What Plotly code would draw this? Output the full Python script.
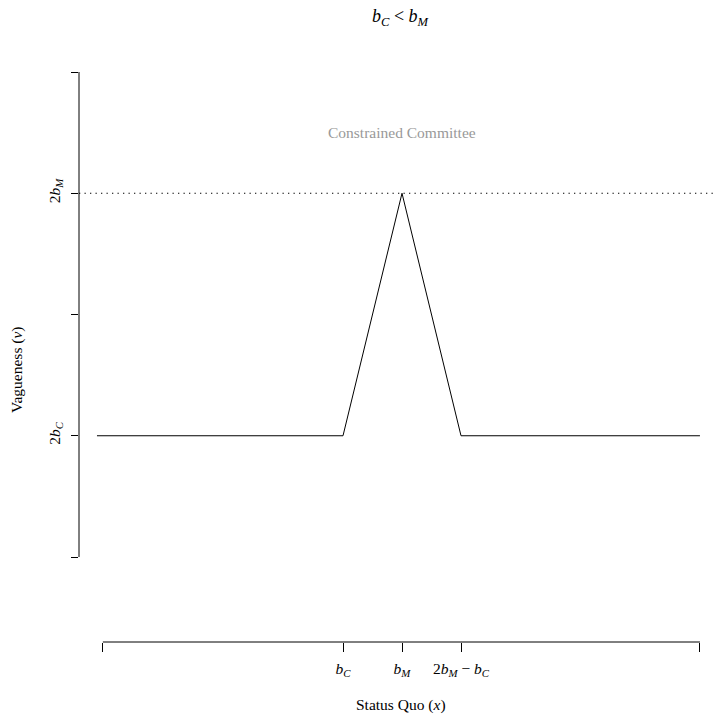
import plotly.graph_objects as go

# ---- data ----
b_C = 0.5
b_M = 1.5
x_line = [-3.67, b_C, b_M, 2 * b_M - b_C, 6.55]
v_line = [2 * b_C, 2 * b_C, 2 * b_M, 2 * b_C, 2 * b_C]

# labelled ticks
x_tickvals = [b_C, b_M, 2 * b_M - b_C]
x_ticktext = ["<i>b</i><sub><i>C</i></sub>", "<i>b</i><sub><i>M</i></sub>",
              "2<i>b</i><sub><i>M</i></sub> − <i>b</i><sub><i>C</i></sub>"]
y_tickvals = [2 * b_C, 2 * b_M]
y_ticktext = ["2<i>b</i><sub><i>C</i></sub>", "2<i>b</i><sub><i>M</i></sub>"]
# unlabelled ticks
x_plain_ticks = [-3.57, 6.55]
y_plain_ticks = [0.0, 2.0, 4.0]

title_text = "<i>b</i><sub><i>C</i></sub> &lt; <i>b</i><sub><i>M</i></sub>"
region_label = "Constrained Committee"
x_title = "Status Quo (<i>x</i>)"
y_title = "Vagueness (<i>v</i>)"

FONT = "Liberation Serif"
FS = 15.5

fig = go.Figure()
fig.add_trace(go.Scatter(x=x_line, y=v_line, mode="lines",
                         line=dict(color="black", width=1), showlegend=False,
                         hoverinfo="skip"))
# invisible trace so the overlay axes (plain ticks) are drawn
fig.add_trace(go.Scatter(x=x_plain_ticks, y=[y_plain_ticks[0]] * len(x_plain_ticks),
                         xaxis="x2", yaxis="y2", mode="lines",
                         line=dict(color="rgba(0,0,0,0)", width=0), showlegend=False,
                         hoverinfo="skip"))

# dotted horizontal reference at 2 b_M
fig.add_hline(y=2 * b_M, line=dict(color="black", width=1.2, dash="1.3px,4.2px"))

# axis lines spanning only the tick range (R style)
x_all = sorted(x_tickvals + x_plain_ticks)
y_all = sorted(y_tickvals + y_plain_ticks)
fig.add_shape(type="line", xref="x", yref="paper", x0=x_all[0], x1=x_all[-1],
              y0=0, y1=0, line=dict(color="black", width=1))
fig.add_shape(type="line", xref="paper", yref="y", x0=0, x1=0,
              y0=y_all[0], y1=y_all[-1], line=dict(color="black", width=1))

x_mid = (x_all[0] + x_all[-1]) / 2
fig.add_annotation(x=b_M, y=3.5, xref="x", yref="y", text=region_label, showarrow=False,
                   xanchor="center", yanchor="middle",
                   font=dict(family=FONT, size=FS, color="#999999"))
fig.add_annotation(x=x_mid, y=1.0 + 54 / 570, xref="x", yref="paper",
                   xanchor="center", yanchor="middle",
                   text=title_text, showarrow=False, font=dict(family=FONT, size=18, color="black"))
fig.add_annotation(x=x_mid, y=-63 / 570, xref="x", yref="paper",
                   xanchor="center", yanchor="middle",
                   text=x_title, showarrow=False, font=dict(family=FONT, size=FS, color="black"))
fig.add_annotation(x=-62 / 635, y=(557 - 370) / 121.25, xref="paper", yref="y",
                   xanchor="center", yanchor="middle",
                   text=y_title, showarrow=False, textangle=-90,
                   font=dict(family=FONT, size=FS, color="black"))

x_range = [b_C - 264 / 59, b_C + 371 / 59]
y_range = [-85 / 121.25, 4.0]
common = dict(showgrid=False, zeroline=False, showline=False, ticks="outside",
              tickcolor="black", tickwidth=1)

fig.update_layout(
    xaxis=dict(range=x_range, ticklen=9, tickvals=x_tickvals, ticktext=x_ticktext,
               ticklabelstandoff=3, tickfont=dict(family=FONT, size=FS, color="black"), **common),
    yaxis=dict(range=y_range, ticklen=7, tickvals=y_tickvals, ticktext=y_ticktext,
               tickangle=-90, ticklabelstandoff=5,
               tickfont=dict(family=FONT, size=FS, color="black"), **common),
    xaxis2=dict(range=x_range, overlaying="x", side="bottom", anchor="y2", ticklen=9,
                tickvals=x_plain_ticks, showticklabels=False, **common),
    yaxis2=dict(range=y_range, overlaying="y", side="left", anchor="x2", ticklen=7,
                tickvals=y_plain_ticks, showticklabels=False, **common),
    width=714, height=721, margin=dict(l=79, r=0, t=72, b=79, autoexpand=False),
    plot_bgcolor="white", paper_bgcolor="white",
)

fig.write_html("out.html")
